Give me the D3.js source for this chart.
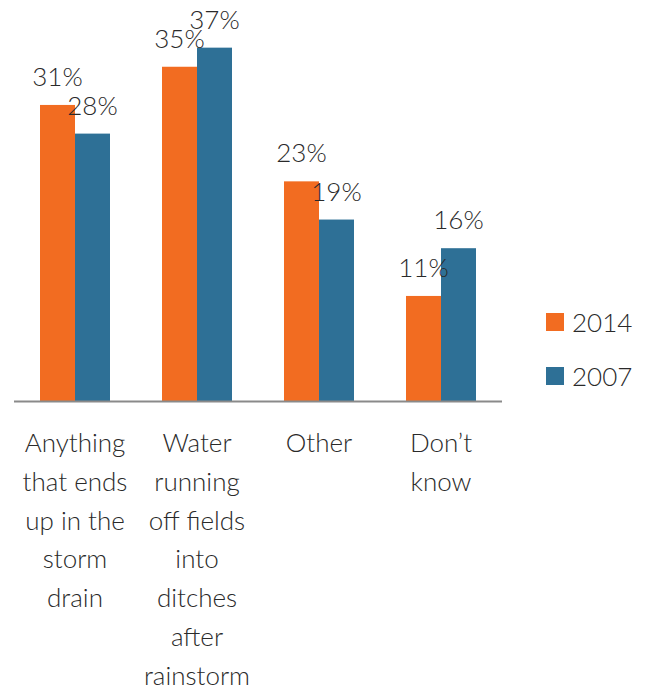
<!DOCTYPE html>
<html>
<head>
<meta charset="utf-8">
<script src="https://cdn.jsdelivr.net/npm/d3@7"></script>
<style>
  html, body { margin: 0; padding: 0; background: #fff; }
  svg text { font-family: Lato, "Open Sans", sans-serif; font-weight: 300; fill: #2a2a2a; }
</style>
</head>
<body>
<svg id="chart" width="645" height="689"></svg>
<script>
// Categories (one line per array entry) and values per year
const categories = [
  ["Anything", "that ends", "up in the", "storm", "drain"],
  ["Water", "running", "off fields", "into", "ditches", "after", "rainstorm"],
  ["Other"],
  ["Don\u2019t", "know"]
];
const years = ["2014", "2007"];
const values2014 = [31, 35, 23, 11];
const values2007 = [28, 37, 19, 16];
const colors = ["#F26C21", "#2E7096"];

const svg = d3.select("#chart");
const baseY = 401, left = 14, right = 502;
const fontPx = "26px";

const x = d3.scaleBand().domain(d3.range(categories.length)).range([left, right]).paddingInner(0).paddingOuter(0);
const y = d3.scaleLinear().domain([0, 40]).range([baseY, baseY - 382]);
const barW = 35;
const xs = d3.scaleBand().domain(years).range([x.bandwidth() / 2 - barW, x.bandwidth() / 2 + barW]);

const series = [values2014, values2007];
const rows = categories.map((c, i) => ({ i, vals: years.map((yr, k) => ({ yr, k, v: series[k][i] })) }));

const g = svg.selectAll("g.grp").data(rows).join("g")
  .attr("class", "grp")
  .attr("transform", d => `translate(${x(d.i)},0)`);

g.selectAll("rect").data(d => d.vals).join("rect")
  .attr("x", d => xs(d.yr))
  .attr("width", xs.bandwidth())
  .attr("y", d => y(d.v))
  .attr("height", d => baseY - y(d.v))
  .attr("fill", d => colors[d.k]);

g.selectAll("text.val").data(d => d.vals).join("text")
  .attr("class", "val")
  .attr("x", d => xs(d.yr) + xs.bandwidth() / 2)
  .attr("y", d => y(d.v) - 19)
  .attr("text-anchor", "middle")
  .style("font-size", fontPx)
  .text(d => d.v + "%");

// baseline axis
svg.append("line")
  .attr("x1", left).attr("x2", right)
  .attr("y1", baseY + 0.5).attr("y2", baseY + 0.5)
  .attr("stroke", "#8a8a8a").attr("stroke-width", 2);

// category labels, wrapped
g.append("text")
  .attr("text-anchor", "middle")
  .style("font-size", fontPx)
  .selectAll("tspan").data(d => categories[d.i]).join("tspan")
  .attr("x", x.bandwidth() / 2)
  .attr("y", (d, j) => 452 + j * 38.8)
  .text(d => d);

// legend
const leg = svg.selectAll("g.leg").data(years).join("g")
  .attr("class", "leg")
  .attr("transform", (d, k) => `translate(546,${313 + k * 54})`);
leg.append("rect").attr("width", 18).attr("height", 18).attr("fill", (d, k) => colors[k]);
leg.append("text").attr("x", 26).attr("y", 19).style("font-size", fontPx).text(d => d);
</script>
</body>
</html>
